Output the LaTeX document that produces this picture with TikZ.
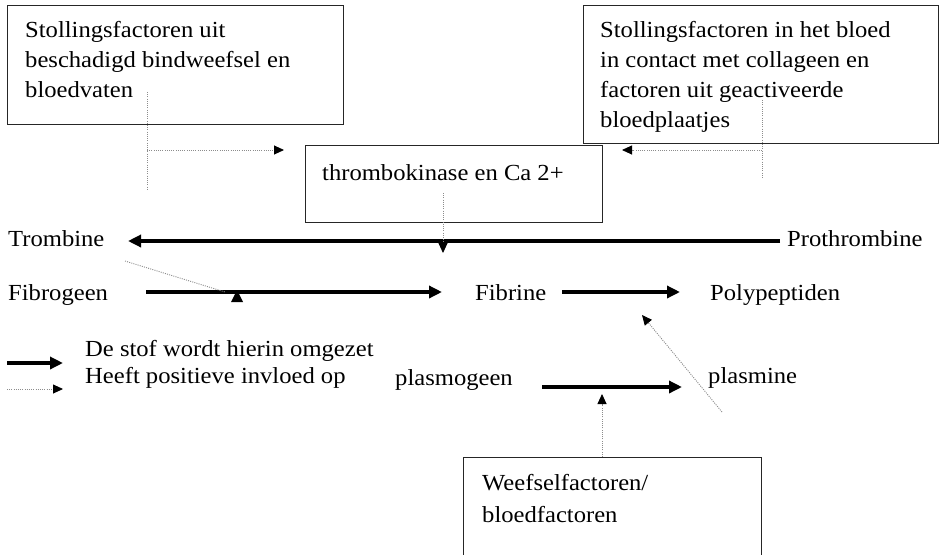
\documentclass[tikz,border=0pt]{standalone}
\usepackage{fontspec}
\setmainfont[FakeStretch=1.07]{Liberation Serif}
\usetikzlibrary{arrows.meta}
\begin{document}
\begin{tikzpicture}[x=1pt,y=-1pt,
  txt/.style={anchor=base west, inner sep=0pt, font=\fontsize{23}{30}\selectfont},
  boxnode/.style={draw=black!85, line width=1.3pt, anchor=north west, inner sep=0pt},
  conv/.style={line width=3.6pt, -{Triangle[length=13pt,width=12pt]}},
  infl/.style={draw=black!45, line width=0.9pt, dash pattern=on 1pt off 1.2pt, -{Triangle[length=10pt,width=9pt,fill=black,color=black]}},
  inflnt/.style={draw=black!45, line width=0.9pt, dash pattern=on 1pt off 1.2pt}]
\useasboundingbox (0,0) rectangle (941,554);
\fill[white] (0,0) rectangle (941,554);
% boxes
\node[boxnode, minimum width=336pt, minimum height=119pt] (b1) at (7,5) {};
\node[boxnode, minimum width=355pt, minimum height=138pt] (b3) at (583,5) {};
\node[boxnode, minimum width=297pt, minimum height=77pt, fill=white] (tk) at (305,145) {};
\node[boxnode, minimum width=298pt, minimum height=110pt] (wf) at (463,457) {};
% box texts
\node[txt] (b1a) at (25,37) {Stollingsfactoren uit};
\node[txt] (b1b) at (25,67) {beschadigd bindweefsel en};
\node[txt] (b1c) at (25,97) {bloedvaten};
\node[txt] (b3a) at (600,37) {Stollingsfactoren in het bloed};
\node[txt] (b3b) at (600,67) {in contact met collageen en};
\node[txt] (b3c) at (600,97) {factoren uit geactiveerde};
\node[txt] (b3d) at (600,127) {bloedplaatjes};
\node[txt] (tkt) at (322,180) {thrombokinase en Ca 2+};
\node[txt] (wfa) at (482,490) {Weefselfactoren/};
\node[txt] (wfb) at (482,522) {bloedfactoren};
% substances
\node[txt] (trom) at (8,246) {Trombine};
\node[txt] (proth) at (787,246) {Prothrombine};
\node[txt] (fibg) at (8,300) {Fibrogeen};
\node[txt] (fibr) at (475,300) {Fibrine};
\node[txt] (poly) at (710,300) {Polypeptiden};
\node[txt] (plg) at (395,385) {plasmogeen};
\node[txt] (plm) at (708,383) {plasmine};
% legend
\node[txt] (lg1) at (85,356) {De stof wordt hierin omgezet};
\node[txt] (lg2) at (85,383) {Heeft positieve invloed op};
\coordinate (l1s) at (7,363); \coordinate (l1e) at (63,363);
\coordinate (l2s) at (7,389); \coordinate (l2e) at (63,389);
\draw[conv] (l1s) -- (l1e);
\draw[infl] (l2s) -- (l2e);
% conversion arrows
\coordinate (a1s) at (780,241); \coordinate (a1e) at (128,241);
\draw[conv] (a1s) -- (a1e);
\coordinate (a2s) at (146,292); \coordinate (a2e) at (442,292);
\draw[conv] (a2s) -- (a2e);
\coordinate (a3s) at (562,292); \coordinate (a3e) at (680,292);
\draw[conv] (a3s) -- (a3e);
\coordinate (a4s) at (542,387); \coordinate (a4e) at (682,387);
\draw[conv] (a4s) -- (a4e);
% influence arrows
\coordinate (d1top) at (147,92); \coordinate (d1bot) at (147,190);
\draw[inflnt] (d1top) -- (d1bot);
\coordinate (d1s) at (147,150); \coordinate (d1e) at (284,150);
\draw[infl] (d1s) -- (d1e);
\coordinate (d3top) at (762,100); \coordinate (d3bot) at (762,178);
\draw[inflnt] (d3top) -- (d3bot);
\coordinate (d3s) at (762,150); \coordinate (d3e) at (622,150);
\draw[infl] (d3s) -- (d3e);
\coordinate (dtk) at (443,193); \coordinate (dtke) at (443,253);
\draw[infl] (dtk) -- (dtke);
\coordinate (dtr) at (125,261); \coordinate (dtre) at (225,292);
\draw[inflnt] (dtr) -- (dtre);
\fill (231,302) -- (237,290) -- (243,302) -- cycle;
\coordinate (dpl) at (722,412); \coordinate (dple) at (642,315);
\draw[infl] (dpl) -- (dple);
\coordinate (dwf) at (602,457); \coordinate (dwfe) at (602,394);
\draw[infl] (dwf) -- (dwfe);
\end{tikzpicture}
\end{document}
